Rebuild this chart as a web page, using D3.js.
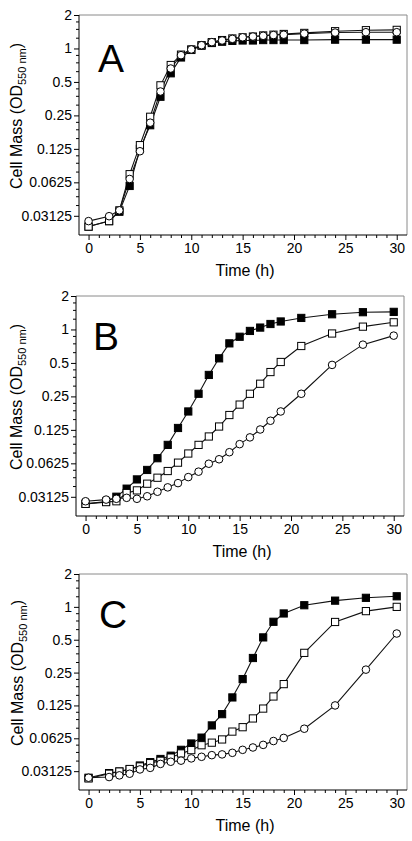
<!DOCTYPE html>
<html>
<head>
<meta charset="utf-8">
<script src="https://cdn.jsdelivr.net/npm/d3@7"></script>
<style>
  html, body { margin: 0; padding: 0; background: #fff; }
  svg { display: block; }
  text { font-family: "Liberation Sans", Arial, sans-serif; fill: #000; }
</style>
</head>
<body>
<svg id="chart" width="412" height="841"></svg>
<script>
// ---- Data ----
const time = [0, 2, 3, 4, 5, 6, 7, 8, 9, 10, 11, 12, 13, 14, 15, 16, 17, 18, 19, 21, 24, 27, 30];

const aFilled = [0.025, 0.028, 0.034, 0.058, 0.125, 0.204, 0.368, 0.598, 0.83, 0.97, 1.06, 1.12, 1.15, 1.17, 1.18, 1.18, 1.19, 1.19, 1.19, 1.19, 1.2, 1.2, 1.2];
const aOpenSq = [0.025, 0.028, 0.035, 0.074, 0.135, 0.243, 0.466, 0.71, 0.88, 0.98, 1.07, 1.14, 1.19, 1.23, 1.26, 1.28, 1.31, 1.33, 1.35, 1.38, 1.43, 1.46, 1.47];
const aCircle = [0.028, 0.031, 0.035, 0.067, 0.119, 0.215, 0.41, 0.66, 0.87, 0.98, 1.07, 1.14, 1.18, 1.22, 1.26, 1.28, 1.30, 1.32, 1.33, 1.36, 1.39, 1.40, 1.40];

const bFilled = [0.027, 0.0284, 0.0313, 0.037, 0.0448, 0.0545, 0.0695, 0.0916, 0.13, 0.183, 0.264, 0.39, 0.55, 0.75, 0.86, 0.97, 1.04, 1.12, 1.18, 1.27, 1.37, 1.43, 1.44];
const bOpenSq = [0.027, 0.028, 0.0285, 0.0338, 0.0357, 0.041, 0.0464, 0.0533, 0.0634, 0.0766, 0.0916, 0.109, 0.134, 0.17, 0.211, 0.264, 0.325, 0.414, 0.51, 0.71, 0.92, 1.06, 1.16];
const bCircle = [0.0285, 0.0295, 0.030, 0.0306, 0.030, 0.0316, 0.0347, 0.038, 0.0415, 0.047, 0.0526, 0.062, 0.068, 0.0787, 0.093, 0.107, 0.126, 0.151, 0.183, 0.264, 0.48, 0.73, 0.88];

const cFilled = [0.0272, 0.030, 0.031, 0.0324, 0.0352, 0.0378, 0.0404, 0.0433, 0.049, 0.056, 0.0634, 0.082, 0.104, 0.148, 0.218, 0.34, 0.525, 0.73, 0.87, 1.035, 1.14, 1.21, 1.25];
const cOpenSq = [0.0268, 0.0296, 0.031, 0.0327, 0.0345, 0.037, 0.0389, 0.0416, 0.0454, 0.0487, 0.054, 0.057, 0.061, 0.072, 0.079, 0.095, 0.117, 0.151, 0.196, 0.379, 0.727, 0.914, 1.0];
const cCircle = [0.0272, 0.0276, 0.0286, 0.0296, 0.0324, 0.0335, 0.0364, 0.0381, 0.039, 0.0409, 0.0423, 0.0438, 0.0445, 0.046, 0.049, 0.0515, 0.0544, 0.059, 0.063, 0.0765, 0.125, 0.266, 0.57];

const yTickValues = [0.03125, 0.0625, 0.125, 0.25, 0.5, 1, 2];
const yTickLabels = ["0.03125", "0.0625", "0.125", "0.25", "0.5", "1", "2"];
const xTickValues = [0, 5, 10, 15, 20, 25, 30];
const xMinorValues = d3.range(0, 31, 1);
const yMinorValues = [0.03125, 0.0625, 0.125, 0.25, 0.5, 1].flatMap(v => [1.25, 1.5, 1.75].map(m => v * m));
const panelLetters = ["A", "B", "C"];
const xLabel = "Time (h)";

// ---- Layout ----
const panels = [
  { letter: panelLetters[0], left: 79, right: 407, top: 15, bottom: 235, letterX: 98, letterY: 72, labelX: 22,
    series: [aFilled, aOpenSq, aCircle] },
  { letter: panelLetters[1], left: 76, right: 404, top: 296, bottom: 516, letterX: 93, letterY: 350, labelX: 22,
    series: [bFilled, bOpenSq, bCircle] },
  { letter: panelLetters[2], left: 79, right: 407, top: 574, bottom: 790, letterX: 99, letterY: 628, labelX: 23,
    series: [cFilled, cOpenSq, cCircle] }
];

const svg = d3.select("#chart");

panels.forEach(p => {
  const x = d3.scaleLinear().domain([-0.93, 31.0]).range([p.left, p.right]);
  const y = d3.scaleLog().base(2).domain([0.021, 2]).range([p.bottom, p.top]);
  const g = svg.append("g");

  // frame: top and right in grey
  g.append("line").attr("x1", p.left).attr("x2", p.right).attr("y1", p.top).attr("y2", p.top)
    .attr("stroke", "#8a8a8a").attr("stroke-width", 1);
  g.append("line").attr("x1", p.right).attr("x2", p.right).attr("y1", p.top).attr("y2", p.bottom)
    .attr("stroke", "#8a8a8a").attr("stroke-width", 1);

  // minor ticks
  g.append("g").attr("transform", `translate(0,${p.bottom})`)
    .call(d3.axisBottom(x).tickValues(xMinorValues.filter(v => v % 5 !== 0)).tickSize(3).tickFormat(""))
    .call(s => s.select(".domain").remove());
  g.append("g").attr("transform", `translate(${p.left},0)`)
    .call(d3.axisLeft(y).tickValues(yMinorValues).tickSize(3).tickFormat(""))
    .call(s => s.select(".domain").remove());

  // major axes
  const xa = g.append("g").attr("transform", `translate(0,${p.bottom})`)
    .call(d3.axisBottom(x).tickValues(xTickValues).tickSize(5).tickPadding(3).tickSizeOuter(0));
  xa.select(".domain").remove();
  xa.selectAll("text").attr("font-size", 14).attr("font-family", "Liberation Sans, Arial, sans-serif");

  const ya = g.append("g").attr("transform", `translate(${p.left},0)`)
    .call(d3.axisLeft(y).tickValues(yTickValues).tickFormat((d, i) => yTickLabels[i]).tickSize(5).tickPadding(2).tickSizeOuter(0));
  ya.select(".domain").remove();
  ya.selectAll("text").attr("font-size", 14).attr("font-family", "Liberation Sans, Arial, sans-serif");

  g.selectAll(".tick line").attr("stroke", "#000");

  // left & bottom axis lines
  g.append("line").attr("x1", p.left).attr("x2", p.right).attr("y1", p.bottom).attr("y2", p.bottom)
    .attr("stroke", "#000").attr("stroke-width", 1);
  g.append("line").attr("x1", p.left).attr("x2", p.left).attr("y1", p.top).attr("y2", p.bottom)
    .attr("stroke", "#000").attr("stroke-width", 1);

  // axis titles
  g.append("text").attr("x", (p.left + p.right) / 2 + 2).attr("y", p.bottom + 41)
    .attr("text-anchor", "middle").attr("font-size", 16).text(xLabel);

  const yl = g.append("text")
    .attr("transform", `translate(${p.labelX},${(p.top + p.bottom) / 2 - 9}) rotate(-90)`)
    .attr("text-anchor", "middle").attr("font-size", 16);
  yl.append("tspan").text("Cell Mass (OD");
  yl.append("tspan").attr("font-size", 11).attr("dy", 4).text("550 nm");
  yl.append("tspan").attr("dy", -4).text(")");

  // panel letter
  g.append("text").attr("x", p.letterX).attr("y", p.letterY).attr("font-size", 39).text(p.letter);

  // series
  const line = d3.line().x((d, i) => x(time[i])).y(d => y(d));
  const styles = [
    { fill: "#000", shape: "square" },
    { fill: "#fff", shape: "square" },
    { fill: "#fff", shape: "circle" }
  ];
  p.series.forEach((vals, si) => {
    g.append("path").datum(vals).attr("d", line)
      .attr("fill", "none").attr("stroke", "#111").attr("stroke-width", 1.1);
  });
  p.series.forEach((vals, si) => {
    const st = styles[si];
    const mg = g.append("g");
    if (st.shape === "square") {
      mg.selectAll("rect").data(vals).join("rect")
        .attr("x", (d, i) => x(time[i]) - 3.6).attr("y", d => y(d) - 3.6)
        .attr("width", 7.2).attr("height", 7.2)
        .attr("fill", st.fill).attr("stroke", "#000").attr("stroke-width", 1);
    } else {
      mg.selectAll("circle").data(vals).join("circle")
        .attr("cx", (d, i) => x(time[i])).attr("cy", d => y(d)).attr("r", 3.8)
        .attr("fill", st.fill).attr("stroke", "#000").attr("stroke-width", 1);
    }
  });
});
</script>
</body>
</html>
